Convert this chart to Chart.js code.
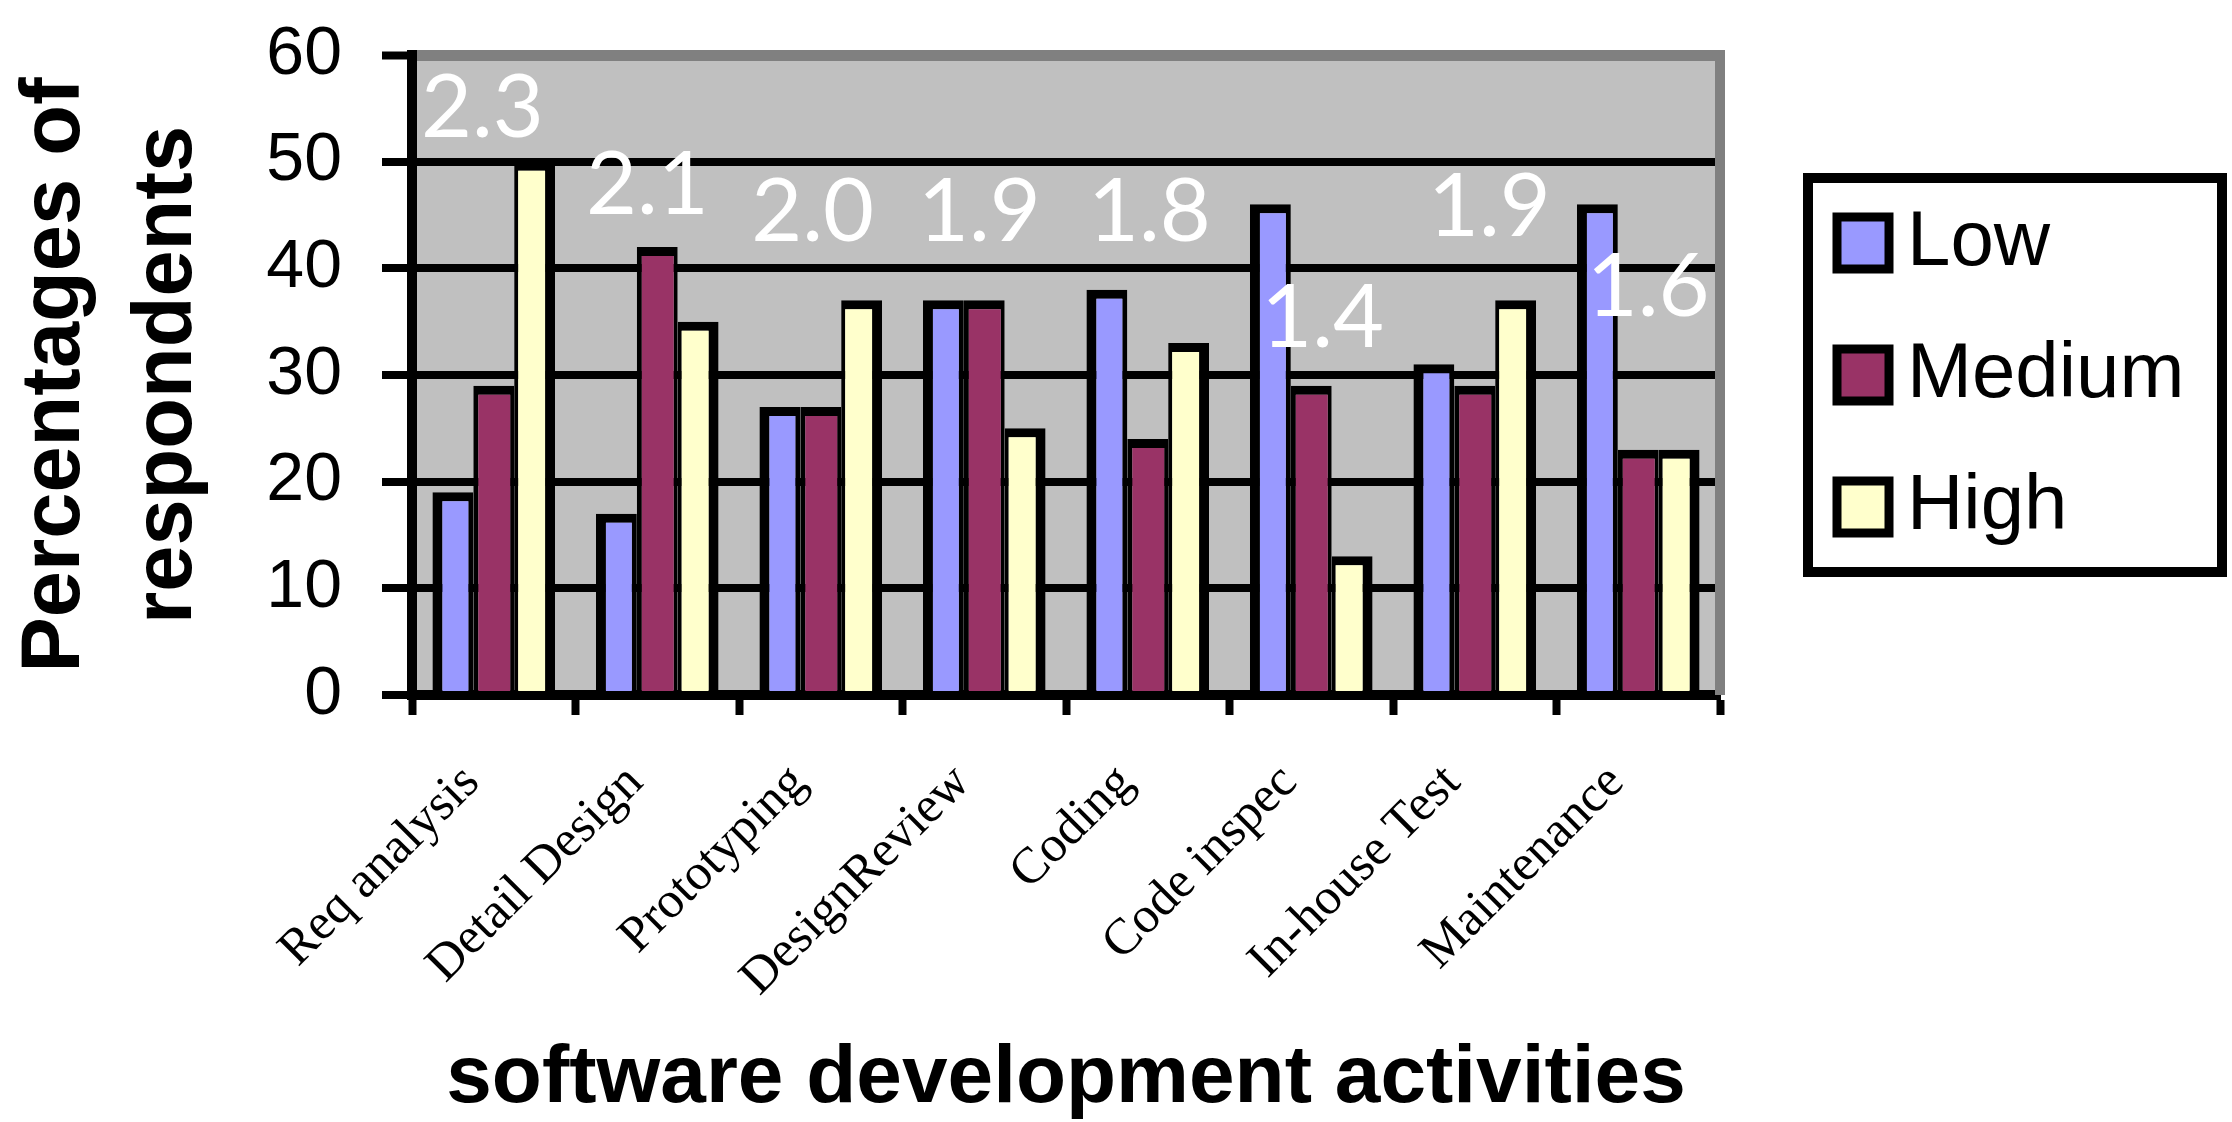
<!DOCTYPE html>
<html>
<head>
<meta charset="utf-8">
<title>software development activities</title>
<script src="https://cdn.jsdelivr.net/npm/chart.js@4.4.1/dist/chart.umd.min.js"></script>
<style>
  html, body { margin: 0; padding: 0; background: #fff; overflow: hidden; }
  #wrap { width: 2232px; height: 1122px; }
</style>
</head>
<body>
<div id="wrap"><canvas id="chartAktivitas"></canvas></div>
<script>
// data
const categories = ["Req analysis", "Detail Design", "Prototyping", "DesignReview", "Coding", "Code inspec", "In-house Test", "Maintenance"];
const lowValues = [19, 17, 27, 37, 38, 46, 31, 46];
const mediumValues = [29, 42, 27, 37, 24, 29, 29, 23];
const highValues = [50, 35, 37, 25, 33, 13, 37, 23];
const scoreLabels = ["2.3", "2.1", "2.0", "1.9", "1.8", "1.4", "1.9", "1.6"];
const yTicks = [0, 10, 20, 30, 40, 50, 60];

const SANS = "'Liberation Sans', Arial, sans-serif";

/** Latar abu-abu area plot + garis kanan */
const plotFrame = {
    id: "plotFrame",
    beforeDraw(chart) {
        const { ctx, chartArea: a } = chart;
        ctx.save();
        ctx.fillStyle = "#c0c0c0";
        ctx.fillRect(a.left, a.top, a.width, a.height);
        ctx.restore();
    },
    beforeDatasetsDraw(chart) {
        const { ctx, chartArea: a } = chart;
        ctx.save();
        ctx.strokeStyle = "#808080";
        ctx.lineWidth = 10;
        ctx.beginPath();
        ctx.moveTo(a.right, a.top - 5);
        ctx.lineTo(a.right, a.bottom);
        ctx.stroke();
        ctx.restore();
    }
};

/** Angka putih di atas tiap kelompok batang */
const scoreText = {
    id: "scoreText",
    afterDatasetsDraw(chart, args, opts) {
        const { ctx, scales } = chart;
        ctx.save();
        ctx.fillStyle = "#fff";
        ctx.font = "88px Lato, 'Open Sans', sans-serif";
        ctx.textAlign = "center";
        ctx.textBaseline = "middle";
        scoreLabels.forEach((txt, i) => {
            const x = scales.x.getPixelForValue(i + opts.shiftX[i]);
            const y = scales.y.getPixelForValue(opts.atY[i]);
            ctx.fillText(txt, x, y);
        });
        ctx.restore();
    }
};

/** Legenda berbingkai di kanan */
const boxedLegend = {
    id: "boxedLegend",
    afterDraw(chart) {
        const { ctx, chartArea: a } = chart;
        const left = a.right + 88;
        const top = a.top + 123;
        ctx.save();
        ctx.strokeStyle = "#000";
        ctx.lineWidth = 10;
        ctx.strokeRect(left, top, 414, 394);
        ctx.font = "78px " + SANS;
        ctx.textBaseline = "middle";
        chart.data.datasets.forEach((ds, i) => {
            const cy = top + 65 + i * 132;
            ctx.fillStyle = ds.backgroundColor;
            ctx.fillRect(left + 29, cy - 26, 52, 52);
            ctx.lineWidth = 9;
            ctx.strokeRect(left + 29, cy - 26, 52, 52);
            ctx.fillStyle = "#000";
            ctx.fillText(ds.label, left + 99, cy);
        });
        ctx.restore();
    }
};

const ctxBar = document.getElementById("chartAktivitas");
new Chart(ctxBar, {
    type: "bar",
    data: {
        labels: categories,
        datasets: [
            {
                label: "Low",
                data: lowValues,
                backgroundColor: "#9999ff",
                borderColor: "#000",
                borderWidth: { top: 9, left: 10, right: 5 }
            },
            {
                label: "Medium",
                data: mediumValues,
                backgroundColor: "#993366",
                borderColor: "#000",
                borderWidth: { top: 9, left: 5, right: 4 }
            },
            {
                label: "High",
                data: highValues,
                backgroundColor: "#ffffcc",
                borderColor: "#000",
                borderWidth: { top: 9, left: 4, right: 10 }
            }
        ]
    },
    options: {
        responsive: true,
        maintainAspectRatio: false,
        animation: false,
        layout: {
            padding: { top: 55, right: 512, bottom: 0, left: 0 }
        },
        datasets: {
            bar: {
                barPercentage: 1,
                categoryPercentage: 0.75
            }
        },
        scales: {
            x: {
                afterFit: (s) => { s.height = 427; },
                grid: {
                    offset: true,
                    drawOnChartArea: false,
                    tickLength: 20,
                    tickWidth: 8,
                    tickColor: "#000"
                },
                border: { color: "#000", width: 10 },
                ticks: {
                    minRotation: 45,
                    maxRotation: 45,
                    padding: 38,
                    labelOffset: -22,
                    color: "#000",
                    font: { family: "'Liberation Serif', 'Times New Roman', serif", size: 51 }
                },
                title: {
                    display: true,
                    text: "software development activities",
                    color: "#000",
                    font: { family: SANS, size: 82, weight: "bold", lineHeight: 1 },
                    padding: { top: 0, bottom: 2 }
                }
            },
            y: {
                min: 0,
                max: 60,
                afterFit: (s) => {
                    s.width = 412;
                    // jangan biarkan padding label menggeser area plot
                    s.paddingTop = 0;
                    s.paddingBottom = 0;
                },
                afterBuildTicks: (s) => { s.ticks = yTicks.map(v => ({ value: v })); },
                grid: {
                    color: (c) => c.tick && c.tick.value === 60 ? "#808080" : "#000",
                    lineWidth: (c) => c.tick && c.tick.value === 60 ? 11 : 8,
                    tickLength: 30,
                    tickWidth: 8,
                    tickColor: "#000"
                },
                border: { color: "#000", width: 10 },
                ticks: {
                    padding: 40,
                    color: "#000",
                    font: { family: SANS, size: 68 }
                },
                title: {
                    display: true,
                    text: ["Percentages of", "respondents"],
                    color: "#000",
                    font: { family: SANS, size: 83, weight: "bold", lineHeight: 1.35 },
                    padding: 0
                }
            }
        },
        plugins: {
            legend: { display: false },
            tooltip: { enabled: false },
            scoreText: {
                shiftX: [-0.07, -0.06, -0.05, -0.03, 0.01, 0.07, 0.09, 0.06],
                atY: [55, 47.8, 45.2, 45.2, 45.2, 35.3, 45.7, 38.2]
            }
        }
    },
    plugins: [plotFrame, scoreText, boxedLegend]
});
</script>
</body>
</html>
